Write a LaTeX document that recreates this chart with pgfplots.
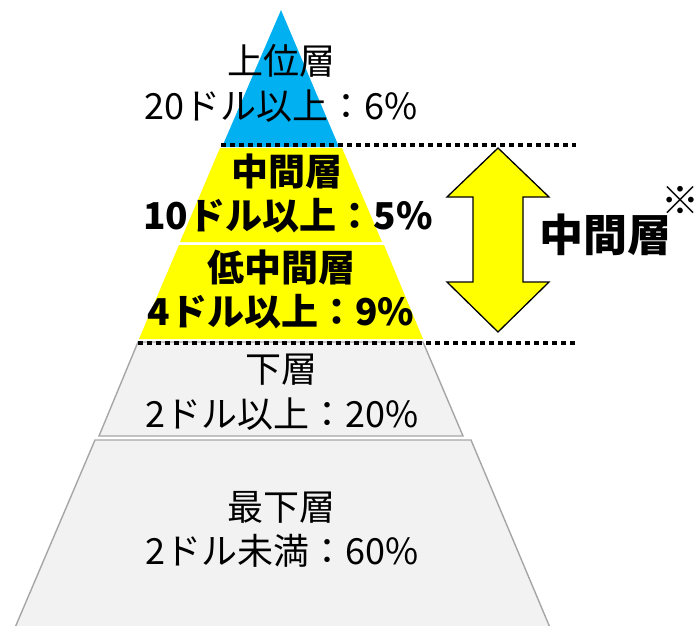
\documentclass[border=0pt]{standalone}
\usepackage{pgfplots}
\pgfplotsset{compat=1.18}
\usepackage{fontspec}
\setmainfont{Noto Sans CJK JP}
\definecolor{topblue}{HTML}{00B0F0}
\definecolor{midyellow}{HTML}{FFFF00}
\definecolor{lowgray}{HTML}{F2F2F2}
\definecolor{edgegray}{HTML}{A6A6A6}
\begin{document}
\begin{tikzpicture}
\begin{axis}[x=1pt,y=1pt,xmin=0,xmax=700,ymin=0,ymax=625,y dir=reverse,
  hide axis,scale only axis,clip=false]
% layers (pixel coordinates, y downwards)
\addplot[fill=topblue,draw=none] coordinates {(281,10) (339,147) (222,147)} -- cycle;
\addplot[fill=midyellow,draw=none] coordinates {(220,148) (342,148) (382,242) (180,242)} -- cycle;
\addplot[fill=midyellow,draw=none] coordinates {(179,245) (384,245) (423,339) (139,339)} -- cycle;
\addplot[fill=lowgray,draw=edgegray,line width=1.4pt] coordinates {(138,342) (423,342) (463,436) (99,436)} -- cycle;
\addplot[fill=lowgray,draw=edgegray,line width=1.4pt] coordinates {(95,440) (471,440) (551,630) (14,630)} -- cycle;
% dotted lines
\addplot[black,line width=4.5pt,dash pattern=on 5pt off 4pt] coordinates {(221,145) (576,145)};
\addplot[black,line width=4.5pt,dash pattern=on 5pt off 4pt] coordinates {(138,343) (576,343)};
% double arrow
\addplot[fill=midyellow,draw=black,line width=1.3pt] coordinates {(498,148) (549,197) (523,197) (523,282) (549,282) (498,332) (447,282) (473,282) (473,197) (447,197)} -- cycle;
% texts
\node[font=\fontsize{36}{40}\selectfont,inner sep=0pt] at (axis cs:281,61) {上位層};
\node[font=\fontsize{36}{40}\selectfont,inner sep=0pt] at (axis cs:281,106) {20ドル以上：6\%};
\node[font=\fontsize{37}{40}\selectfont\bfseries,inner sep=0pt] at (axis cs:287,171) {中間層};
\node[font=\fontsize{37}{40}\selectfont\bfseries,inner sep=0pt] at (axis cs:288,216) {10ドル以上：5\%};
\node[font=\fontsize{37}{40}\selectfont\bfseries,inner sep=0pt] at (axis cs:281,267) {低中間層};
\node[font=\fontsize{37}{40}\selectfont\bfseries,inner sep=0pt] at (axis cs:281,312) {4ドル以上：9\%};
\node[font=\fontsize{36}{40}\selectfont,inner sep=0pt] at (axis cs:281,370) {下層};
\node[font=\fontsize{36}{40}\selectfont,inner sep=0pt] at (axis cs:282,414) {2ドル以上：20\%};
\node[font=\fontsize{36}{40}\selectfont,inner sep=0pt] at (axis cs:281,507) {最下層};
\node[font=\fontsize{36}{40}\selectfont,inner sep=0pt] at (axis cs:282,551) {2ドル未満：60\%};
\node[font=\fontsize{44}{48}\selectfont\bfseries,inner sep=0pt] at (axis cs:605,235) {中間層};
\node[font=\fontsize{38}{40}\selectfont,inner sep=0pt,anchor=east] at (axis cs:700,200) {※};
\end{axis}
\pgfresetboundingbox
\useasboundingbox (current axis.south west) rectangle (current axis.north east);
\end{tikzpicture}
\end{document}
